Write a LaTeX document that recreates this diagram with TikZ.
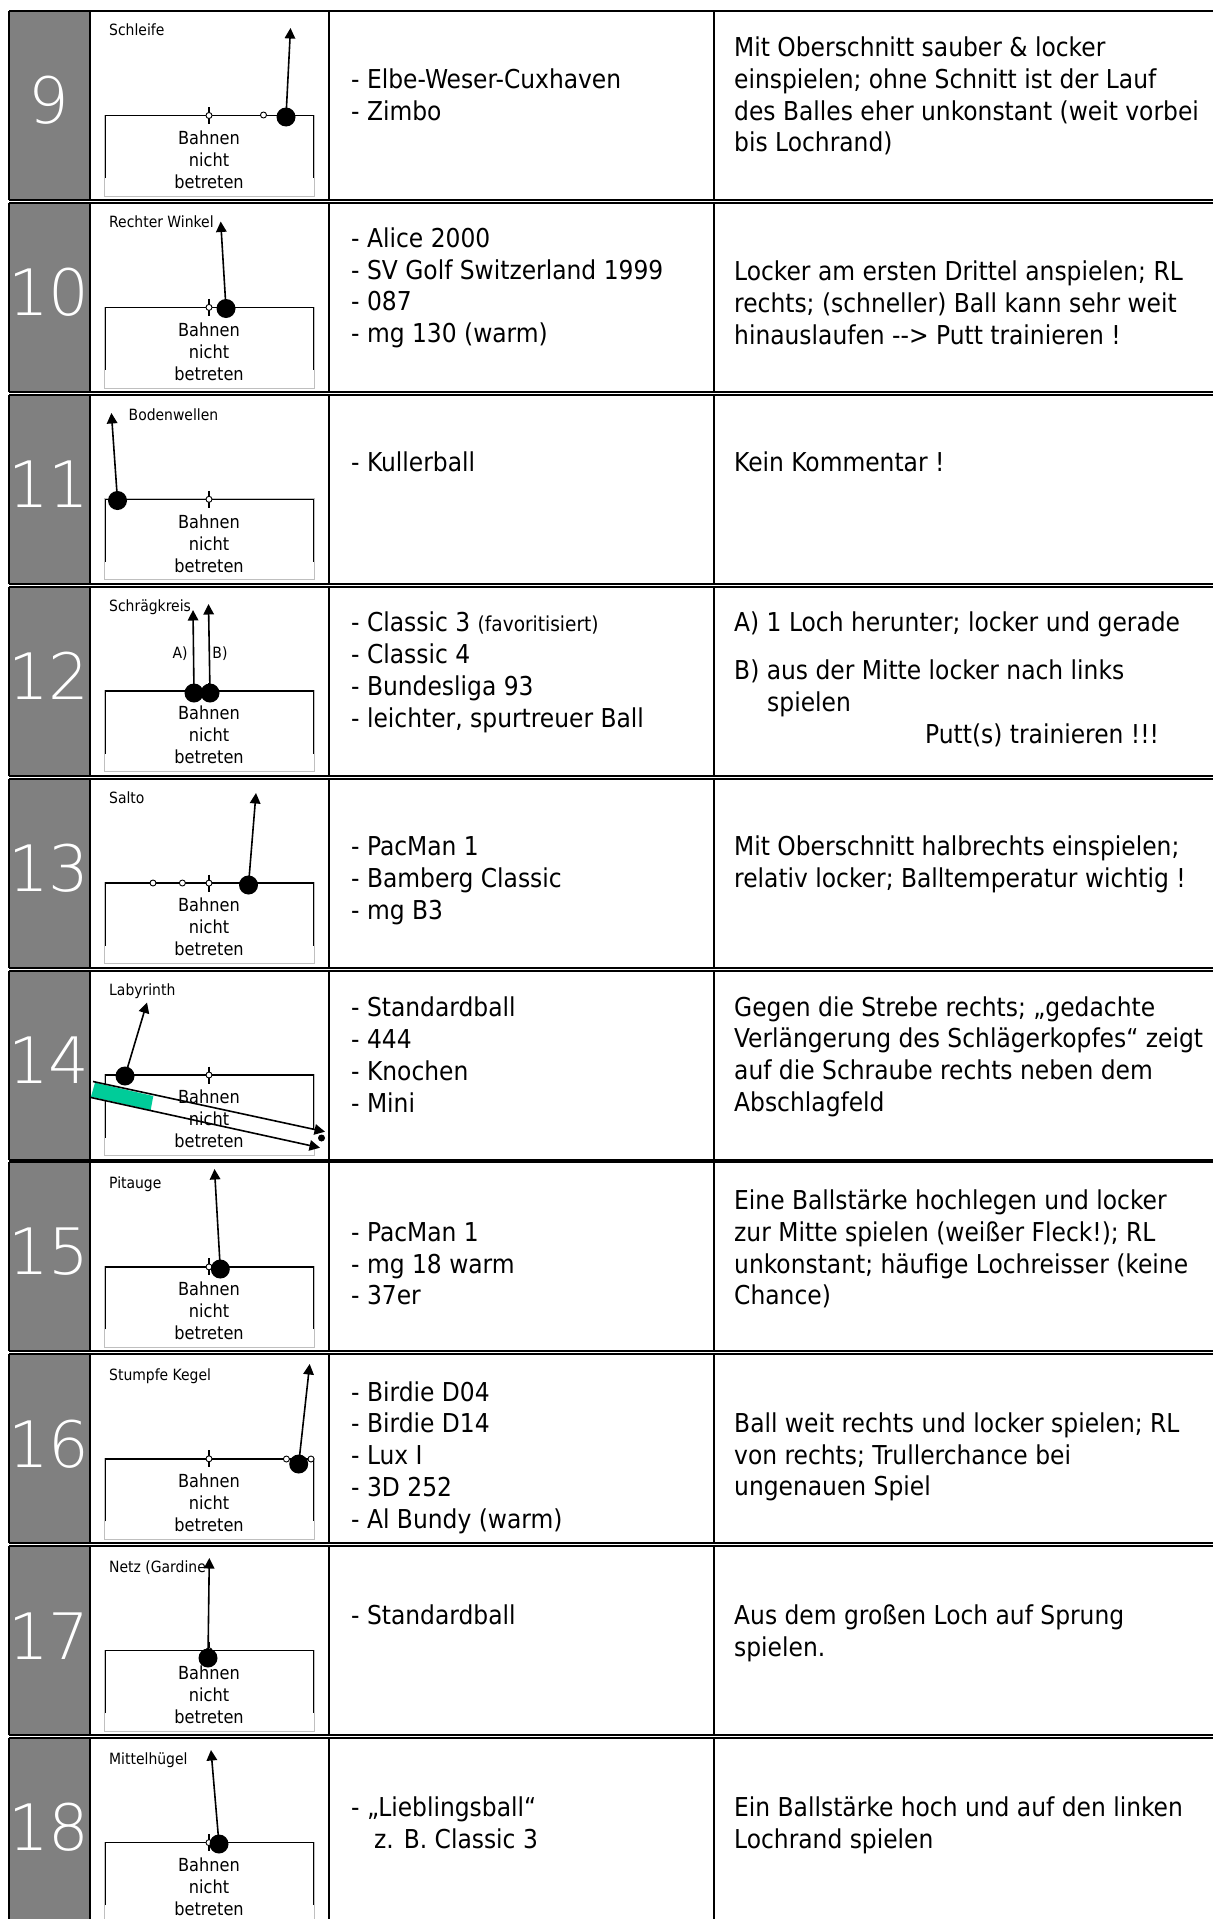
\documentclass[tikz,border=0pt]{standalone}
\usepackage{fontspec}
\setmainfont{DejaVu Sans Condensed}
\newfontfamily\digitfont{DejaVu Sans ExtraLight}
\usetikzlibrary{arrows.meta}
\definecolor{rowgrey}{HTML}{808080}
\definecolor{boxgrey}{HTML}{BFBFBF}
\definecolor{bandgreen}{HTML}{00CC99}
\tikzset{
  frameline/.style={draw=black,line width=2pt},
  numtext/.style={font=\digitfont\fontsize{64}{70}\selectfont,text=white,inner sep=0pt},
  lbl/.style={font=\fontsize{15.5}{18}\selectfont,anchor=west,inner sep=0pt},
  small/.style={font=\fontsize{15.5}{18}\selectfont,inner sep=0pt},
  bahntext/.style={font=\fontsize{18}{22}\selectfont,align=center,inner sep=0pt},
  cell/.style={anchor=west,align=left,inner sep=0pt,font=\fontsize{26}{31.8}\selectfont},
  ballnode/.style={circle,fill=black,minimum size=19pt,inner sep=0pt},
  mini/.style={circle,draw=black,fill=white,line width=0.9pt,minimum size=6pt,inner sep=0pt},
  shot/.style={line width=1.6pt,-{Triangle[length=10.5pt,width=10.5pt]},shorten <=-3pt},
  blk/.style={line width=1.5pt},
}
\newcommand{\rowframe}[3]{%
  \fill[rowgrey] (9,#2) rectangle (89,{#2+189});
  \draw[frameline] (9,#2) -- (1213,#2);
  \draw[frameline] (9,{#2+189}) -- (1213,{#2+189});
  \draw[frameline] (9,#2) -- (9,{#2+189});
  \draw[frameline] (89.5,#2) -- (89.5,{#2+189});
  \draw[frameline] (329,#2) -- (329,{#2+189});
  \draw[frameline] (713.5,#2) -- (713.5,{#2+189});
  \node[numtext] (n#1) at (49,{#2+89.5}) {#3};
}
\newcommand{\laneframe}[2]{%
  \draw[boxgrey,line width=0.7pt] (104.7,{#2+104}) rectangle (314,{#2+185});
  \draw[blk] (105.5,{#2+167}) -- (105.5,{#2+104.5}) -- (313.5,{#2+104.5}) -- (313.5,{#2+167});
  \coordinate (ta#1) at (209,{#2+96});
  \coordinate (tb#1) at (209,{#2+113});
  \draw[blk] (ta#1) -- (tb#1);
  \node[mini] (c#1) at (209,{#2+104.5}) {};
}
\newcommand{\lanetext}[2]{\node[bahntext] (bt#1) at (209,{#2+148.5}) {Bahnen\\nicht\\betreten};}
\newcommand{\lanebox}[2]{\laneframe{#1}{#2}\lanetext{#1}{#2}}
\newcommand{\lbltext}[4]{\node[lbl] (l#1) at (#2,#3) {#4};}
\newcommand{\shotball}[5]{%
  \node[ballnode] (b#1) at (#2,#3) {};
  \coordinate (t#1) at (#4,#5);
  \draw[shot] (b#1) -- (t#1);
}
\begin{document}
\begin{tikzpicture}[x=1pt,y=-1pt]
\useasboundingbox (0,0) rectangle (1213,1919);
\fill[white] (0,0) rectangle (1213,1919);
\begin{scope}
\clip (0,0) rectangle (1213,1919);
% ---- row 9
\rowframe{9}{11}{9}
\lanebox{9}{11}
\lbltext{9}{109}{30}{Schleife}
\node[mini] (x9) at (263.5,115) {};
\shotball{9}{286}{117}{290.5}{28}
\node[cell] (p9) at (351,{1.2241*77+3.5}) {\strut - Elbe-Weser-Cuxhaven\\\strut - Zimbo};
\node[cell] (k9) at (734,{1.2241*77+3.5}) {\strut Mit Oberschnitt sauber \& locker\\\strut einspielen; ohne Schnitt ist der Lauf\\\strut des Balles eher unkonstant (weit vorbei\\\strut bis Lochrand)};
% ---- row 10
\rowframe{10}{202.9}{10}
\lanebox{10}{202.9}
\lbltext{10}{109}{222}{Rechter Winkel}
\shotball{10}{226}{308.5}{220.7}{221.5}
\node[cell] (p10) at (351,{1.2241*233+3.5}) {\strut - Alice 2000\\\strut - SV Golf Switzerland 1999\\\strut - 087\\\strut - mg 130 (warm)};
\node[cell] (k10) at (734,{1.2241*247+3.5}) {\strut Locker am ersten Drittel anspielen; RL\\\strut rechts; (schneller) Ball kann sehr weit\\\strut hinauslaufen -{}-{}> Putt trainieren !};
% ---- row 11
\rowframe{11}{394.8}{11}
\lanebox{11}{394.8}
\lbltext{11}{128.5}{415}{Bodenwellen}
\shotball{11}{117.5}{500.5}{111.4}{413}
\node[cell] (p11) at (351,{1.2241*377+3.5}) {\strut - Kullerball};
\node[cell] (k11) at (734,{1.2241*377+3.5}) {\strut Kein Kommentar !};
% ---- row 12
\rowframe{12}{586.7}{12}
\lanebox{12}{586.7}
\lbltext{12}{109}{607}{Schrägkreis}
\shotball{12a}{194}{693}{193}{610}
\shotball{12b}{210}{693}{208.5}{604}
\node[small] (la12) at (180,654) {A)};
\node[small] (lb12) at (220,654) {B)};
\node[cell] (p12) at (351,{1.2241*547+3.5}) {\strut - Classic 3 {\fontsize{20.6}{24}\selectfont (favoritisiert)}\\\strut - Classic 4\\\strut - Bundesliga 93\\\strut - leichter, spurtreuer Ball};
\node[cell] (k12a) at (734,{1.2241*508+3.5}) {\strut A) 1 Loch herunter; locker und gerade};
\node[cell] (k12b) at (734,{1.2241*547+3.5}) {\strut B) aus der Mitte locker nach links};
\node[cell] (k12c) at (767,{1.2241*573+3.5}) {\strut spielen};
\node[cell] (k12d) at (925,{1.2241*599+3.5}) {\strut Putt(s) trainieren !!!};
% ---- row 13
\rowframe{13}{778.6}{13}
\lanebox{13}{778.6}
\lbltext{13}{109}{798}{Salto}
\node[mini] (x13a) at (153,883) {};
\node[mini] (x13b) at (182.4,883) {};
\shotball{13}{248.5}{885}{256}{793}
\node[cell] (p13) at (351,{1.2241*717+3.5}) {\strut - PacMan 1\\\strut - Bamberg Classic\\\strut - mg B3};
\node[cell] (k13) at (734,{1.2241*704+3.5}) {\strut Mit Oberschnitt halbrechts einspielen;\\\strut relativ locker; Balltemperatur wichtig !};
% ---- row 14
\rowframe{14}{970.5}{14}
\laneframe{14}{970.5}
\lbltext{14}{109}{991}{Labyrinth}
\shotball{14}{125}{1076}{147}{1002.5}
\fill[white] (93,1081.5) -- (325,1131.7) -- (320,1147.7) -- (91,1097.5) -- cycle;
\fill[bandgreen] (95,1082.7) -- (153.3,1096) -- (150.7,1110) -- (91,1096.7) -- cycle;
\lanetext{14}{970.5}
\coordinate (sa14) at (93,1081.5);
\coordinate (ea14) at (325,1131.7);
\coordinate (sb14) at (91,1097.5);
\coordinate (eb14) at (320,1147.7);
\draw[shot,shorten <=0pt] (sa14) -- (ea14);
\draw[shot,shorten <=0pt] (sb14) -- (eb14);
\node[circle,fill=black,minimum size=7pt,inner sep=0pt] (h14) at (321.5,1138) {};
\node[cell] (p14) at (351,{1.2241*861.5+3.5}) {\strut - Standardball\\\strut - 444\\\strut - Knochen\\\strut - Mini};
\node[cell] (k14) at (734,{1.2241*861+3.5}) {\strut Gegen die Strebe rechts; „gedachte\\\strut Verlängerung des Schlägerkopfes“ zeigt\\\strut auf die Schraube rechts neben dem\\\strut Abschlagfeld};
% ---- row 15
\rowframe{15}{1162.4}{15}
\lanebox{15}{1162.4}
\lbltext{15}{109}{1184}{Pitauge}
\shotball{15}{220.3}{1269}{214.5}{1169}
\node[cell] (p15) at (351,{1.2241*1032+3.5}) {\strut - PacMan 1\\\strut - mg 18 warm\\\strut - 37er};
\node[cell] (k15) at (734,{1.2241*1019+3.5}) {\strut Eine Ballstärke hochlegen und locker\\\strut zur Mitte spielen (weißer Fleck!); RL\\\strut unkonstant; häufige Lochreisser (keine\\\strut Chance)};
% ---- row 16
\rowframe{16}{1354.3}{16}
\lanebox{16}{1354.3}
\lbltext{16}{109}{1376}{Stumpfe Kegel}
\node[mini] (x16a) at (286.4,1459) {};
\node[mini] (x16b) at (311,1459) {};
\shotball{16}{298.7}{1464}{309.7}{1364}
\node[cell] (p16) at (351,{1.2241*1188.5+3.5}) {\strut - Birdie D04\\\strut - Birdie D14\\\strut - Lux I\\\strut - 3D 252\\\strut - Al Bundy (warm)};
\node[cell] (k16) at (734,{1.2241*1188+3.5}) {\strut Ball weit rechts und locker spielen; RL\\\strut von rechts; Trullerchance bei\\\strut ungenauen Spiel};
% ---- row 17
\rowframe{17}{1546.2}{17}
\lanebox{17}{1546.2}
\lbltext{17}{109}{1568}{Netz (Gardine}
\shotball{17}{208}{1658}{209.3}{1558}
\node[cell] (p17) at (351,{1.2241*1319+3.5}) {\strut - Standardball};
\node[cell] (k17) at (734,{1.2241*1332+3.5}) {\strut Aus dem großen Loch auf Sprung\\\strut spielen.};
% ---- row 18
\rowframe{18}{1738.1}{18}
\lanebox{18}{1738.1}
\lbltext{18}{109}{1760}{Mittelhügel}
\shotball{18}{219}{1844}{211}{1750}
\node[cell] (p18) at (351,{1.2241*1489+3.5}) {\strut - „Lieblingsball“\\\strut\hspace*{23pt}z. B. Classic 3};
\node[cell] (k18) at (734,{1.2241*1489+3.5}) {\strut Ein Ballstärke hoch und auf den linken\\\strut Lochrand spielen};
\end{scope}
\end{tikzpicture}
\end{document}
